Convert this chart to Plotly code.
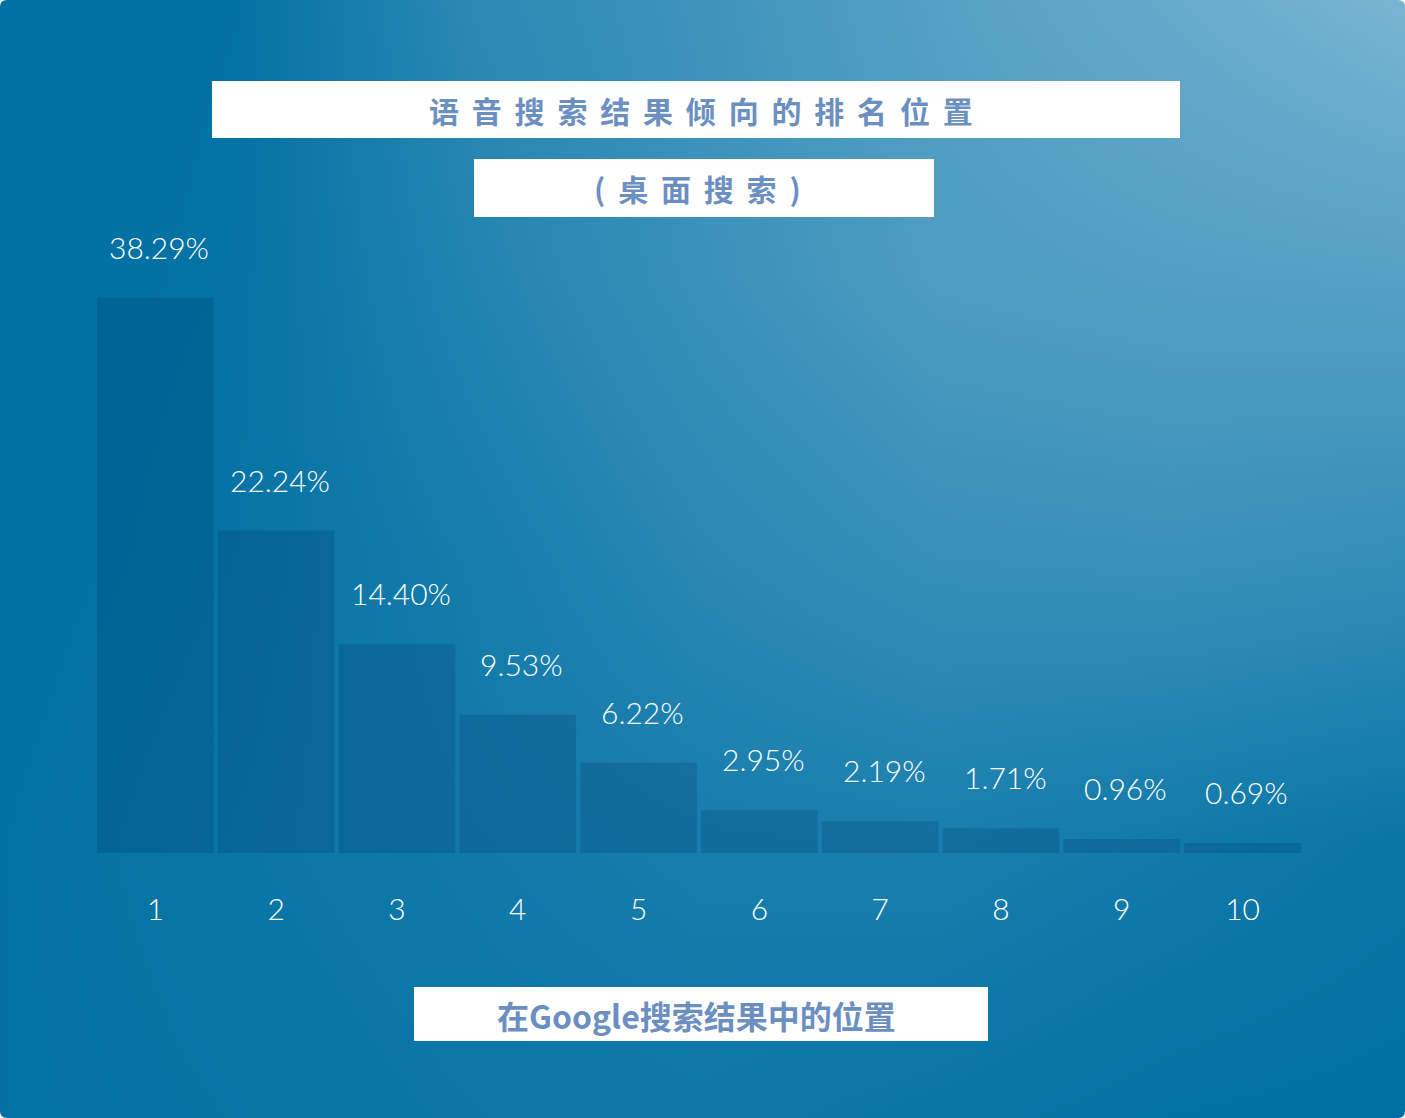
import plotly.graph_objects as go

# ---------------- data ----------------
positions = ["1", "2", "3", "4", "5", "6", "7", "8", "9", "10"]
shares = [38.29, 22.24, 14.40, 9.53, 6.22, 2.95, 2.19, 1.71, 0.96, 0.69]
share_labels = ["38.29%", "22.24%", "14.40%", "9.53%", "6.22%",
                "2.95%", "2.19%", "1.71%", "0.96%", "0.69%"]
title_chars = ["语", "音", "搜", "索", "结", "果", "倾", "向", "的", "排", "名", "位", "置"]
subtitle_chars = ["(", "桌", "面", "搜", "索", ")"]
axis_title = "在Google搜索结果中的位置"

# background gradient (lightness, 0 = dark, 1 = light)
BG_X = [0, 235, 470, 700, 935, 1170, 1405]
BG_Y = [0, 280, 560, 840, 1118]
BG_L = [
    [0.00, 0.02, 0.35, 0.50, 0.68, 0.82, 0.97],
    [0.00, 0.03, 0.27, 0.46, 0.62, 0.66, 0.68],
    [0.00, 0.05, 0.17, 0.33, 0.44, 0.46, 0.42],
    [0.02, 0.08, 0.13, 0.18, 0.20, 0.14, 0.07],
    [0.02, 0.05, 0.09, 0.11, 0.07, 0.02, 0.00],
]

W, H = 1405, 1118
TEXT_BLUE = "#6c8fc2"
NUM_FONT = dict(family="Lato", size=30, color="white", weight=300)


def px(x):
    return x / W


def py(y):
    return 1 - y / H


fig = go.Figure()

# gradient background on a hidden full-page subplot
fig.add_trace(go.Heatmap(
    x=BG_X, y=BG_Y, z=BG_L, zmin=0, zmax=1, zsmooth="best",
    colorscale=[[0, "#0070a3"], [1, "#7db7d4"]],
    showscale=False, hoverinfo="skip", xaxis="x", yaxis="y",
))

# bars
fig.add_trace(go.Bar(
    x=positions, y=shares, xaxis="x2", yaxis="y2",
    marker=dict(color="rgba(0,50,100,0.22)", line=dict(width=0)),
    hoverinfo="skip",
))

annotations = []
for i, (v, lab) in enumerate(zip(shares, share_labels)):
    annotations.append(dict(
        x=i, y=v, xref="x2", yref="y2", text=lab, showarrow=False,
        yshift=51, xshift=4, yanchor="middle", font=NUM_FONT,
    ))

gap = "\u00a0\u2009"
annotations.append(dict(
    x=px(701), y=py(110), xref="paper", yref="paper",
    text=gap.join(title_chars), showarrow=False,
    font=dict(family="Noto Sans CJK SC", size=30, color=TEXT_BLUE, weight="bold"),
    xanchor="center", yanchor="middle",
))
annotations.append(dict(
    x=px(697), y=py(188), xref="paper", yref="paper",
    text=gap.join(subtitle_chars), showarrow=False,
    font=dict(family="Noto Sans CJK SC", size=30, color=TEXT_BLUE, weight="bold"),
    xanchor="center", yanchor="middle",
))
annotations.append(dict(
    x=px(696), y=py(1015), xref="paper", yref="paper",
    text=axis_title, showarrow=False,
    font=dict(family="Noto Sans CJK SC", size=32, color=TEXT_BLUE, weight="bold"),
    xanchor="center", yanchor="middle",
))

shapes = []
for (x0, y0, x1, y1) in [(212, 81, 1180, 138), (474, 159, 934, 217), (414, 987, 988, 1041)]:
    shapes.append(dict(type="rect", xref="paper", yref="paper",
                       x0=px(x0), x1=px(x1), y0=py(y1), y1=py(y0),
                       fillcolor="white", line=dict(width=0), layer="above"))

# rounded card corners (white masks)
r = 7
rx, ry = r / W, r / H
corner_paths = [
    f"M 0 1 L {rx} 1 Q 0 1 0 {1-ry} Z",
    f"M 1 1 L {1-rx} 1 Q 1 1 1 {1-ry} Z",
    f"M 0 0 L {rx} 0 Q 0 0 0 {ry} Z",
    f"M 1 0 L {1-rx} 0 Q 1 0 1 {ry} Z",
]
for pth in corner_paths:
    shapes.append(dict(type="path", path=pth, xref="paper", yref="paper",
                       fillcolor="white", line=dict(width=0), layer="above"))

fig.update_layout(
    width=W, height=H,
    margin=dict(l=0, r=0, t=0, b=0),
    paper_bgcolor="white", plot_bgcolor="rgba(0,0,0,0)",
    showlegend=False,
    bargap=0.035,
    xaxis=dict(domain=[0, 1], range=[0, W], visible=False, fixedrange=True),
    yaxis=dict(domain=[0, 1], range=[H, 0], visible=False, fixedrange=True),
    xaxis2=dict(domain=[px(95), px(1303)], anchor="y2", type="category",
                range=[-0.5, 9.5],
                showgrid=False, zeroline=False, showline=False, ticks="",
                tickfont=NUM_FONT, ticklabelstandoff=36),
    yaxis2=dict(domain=[py(853), py(273)], anchor="x2", range=[0, 40],
                visible=False, showgrid=False, zeroline=False),
    annotations=annotations,
    shapes=shapes,
)

fig.write_html(
    "out.html",
    config={"displayModeBar": False},
    post_script="document.body.style.margin='0px';document.body.style.overflow='hidden';",
)
